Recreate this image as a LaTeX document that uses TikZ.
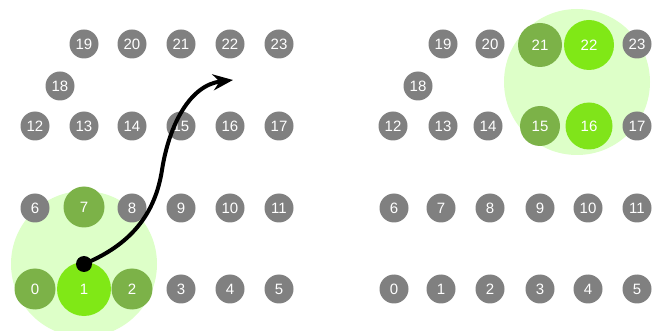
\documentclass[tikz,border=0pt]{standalone}
\usepackage{fontspec}
\setmainfont{Liberation Sans}
\usetikzlibrary{arrows.meta}
\definecolor{cellgray}{RGB}{128,128,128}
\definecolor{nbgreen}{RGB}{124,178,72}
\definecolor{selgreen}{RGB}{128,232,22}
\definecolor{zonegreen}{RGB}{221,255,200}

\begin{document}
\begin{tikzpicture}[x=1pt, y=-1pt,
    cell/.style={circle, fill=cellgray, text=white, inner sep=0pt,
                 minimum size=29pt, font=\fontsize{15}{15}\selectfont},
    nb/.style={cell, fill=nbgreen, minimum size=41pt},
    sel/.style={cell, fill=selgreen, minimum size=54pt},
    zone/.style={circle, fill=zonegreen, inner sep=0pt, minimum size=146pt},
    arr/.style={-{Stealth[length=20pt, width=16pt]}, line width=4pt}
]
  \useasboundingbox (0,0) rectangle (659,331);

  % coverage zones
  \node[zone] (lzone) at (84,264) {};
  \node[zone] (rzone) at (577,82) {};

  % left grid, before the move
  \foreach \n/\x/\y in {3/181/289, 4/230/289, 5/279/289,
      6/35/208, 8/132/208, 9/181/208, 10/230/208, 11/279/208,
      12/35/126, 13/84/126, 14/132/126, 15/181/126, 16/230/126, 17/279/126,
      18/60/86,
      19/84/44, 20/132/44, 21/181/44, 22/230/44, 23/279/44}
    \node[cell] (l\n) at (\x,\y) {\n};
  \node[nb] (l0) at (35,289) {0};
  \node[nb] (l2) at (132,289) {2};
  \node[nb] (l7) at (84,207) {7};
  \node[sel] (l1) at (84,289) {1};

  % right grid, after the move
  \foreach \n/\x/\y in {0/394/289, 1/441/289, 2/490/289, 3/540/289, 4/588/289, 5/637/289,
      6/394/208, 7/441/208, 8/490/208, 9/540/208, 10/588/208, 11/637/208,
      12/393/126, 13/443/126, 14/488/126, 17/637/126,
      18/418/86,
      19/443/44, 20/490/44, 23/637/44}
    \node[cell] (r\n) at (\x,\y) {\n};
  \node[nb, minimum size=40pt] (r15) at (540,126) {15};
  \node[nb, minimum size=44pt] (r21) at (540,45) {21};
  \node[sel, minimum size=47pt, fill=selgreen!92!nbgreen] (r16) at (589,126) {16};
  \node[sel, minimum size=50pt] (r22) at (589,45) {22};

  % move
  \node[circle, fill=black, inner sep=0pt, minimum size=16pt] (start) at (84,264) {};
  \coordinate (bend) at (162,170);
  \coordinate (goal) at (233,80);
  \draw[arr] (start.center) .. controls (130,245) and (155,215) .. (bend)
    .. controls (169,125) and (190,85) .. (goal);
\end{tikzpicture}
\end{document}
